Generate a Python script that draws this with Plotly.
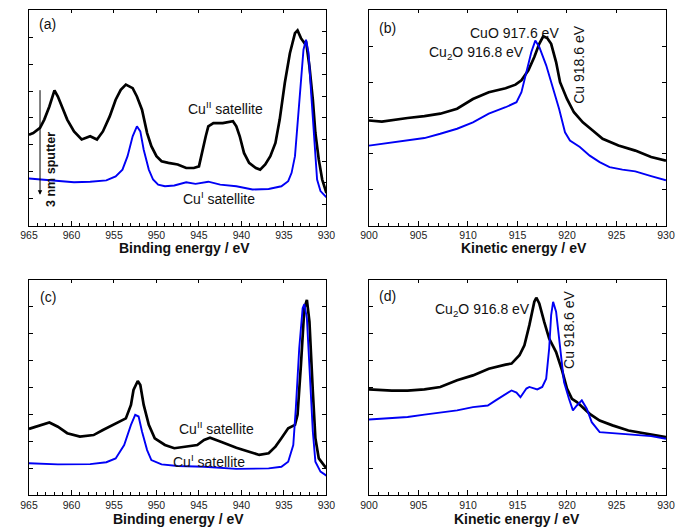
import plotly.graph_objects as go

# ---------------- (a) Cu 2p, before sputtering / after 3 nm sputter ----------------
a_black_be = [965.0, 964.5, 963.7, 963.2, 962.6, 962.0, 961.6, 961.1, 960.5, 959.7, 958.8, 957.8,
              957.0, 956.3, 955.5, 954.8, 954.2, 953.6, 952.8, 952.3, 951.7, 951.1, 950.6, 950.0,
              949.4, 948.6, 947.5, 946.5, 945.6, 945.0, 944.6, 944.2, 943.9, 943.3, 942.2, 941.0,
              940.6, 940.2, 939.7, 939.1, 938.3, 937.8, 937.2, 936.6, 936.0, 935.5, 934.9, 934.3,
              933.7, 933.4, 933.0, 932.6, 932.4, 932.0, 931.6, 931.3, 930.9, 930.5, 930.0]
a_black = [3.38, 3.44, 3.63, 3.94, 4.43, 5.03, 4.80, 4.43, 3.94, 3.50, 3.20, 3.32,
           3.20, 3.50, 4.06, 4.68, 5.05, 5.24, 5.11, 4.80, 4.31, 3.44, 2.95, 2.58,
           2.39, 2.33, 2.27, 2.14, 2.14, 2.20, 2.82, 3.32, 3.69, 3.81, 3.81, 3.88,
           3.69, 3.32, 2.70, 2.33, 2.14, 2.08, 2.27, 2.58, 3.07, 3.94, 5.30, 6.41,
           7.16, 7.26, 6.97, 6.79, 6.85, 5.92, 4.68, 3.44, 2.45, 1.71, 1.21]
a_blue_be = [965.0, 963.5, 961.6, 959.7, 957.8, 955.9, 954.8, 954.0, 953.4, 952.8, 952.3, 951.9,
             951.5, 950.9, 950.4, 949.8, 949.0, 947.9, 946.5, 945.4, 943.9, 942.5, 940.6, 938.7,
             936.8, 935.3, 934.5, 934.1, 933.7, 933.4, 933.0, 932.7, 932.4, 932.1, 931.8, 931.4,
             931.1, 930.7, 930.0]
a_blue = [1.75, 1.71, 1.65, 1.61, 1.63, 1.68, 1.83, 2.08, 2.58, 3.32, 3.69, 3.50,
          2.82, 2.08, 1.71, 1.52, 1.46, 1.49, 1.61, 1.55, 1.63, 1.52, 1.46, 1.34,
          1.36, 1.46, 1.65, 1.96, 2.58, 3.81, 5.42, 6.54, 6.91, 6.41, 4.93, 3.07,
          1.71, 1.28, 1.05]

# ---------------- (b) Cu LMM, before / after sputter ----------------
b_black_ke = [900.0, 901.3, 903.9, 905.6, 907.2, 908.9, 910.5, 912.1, 913.8, 914.8, 915.4, 916.1,
              916.7, 917.2, 917.6, 918.0, 918.4, 918.9, 919.3, 920.0, 920.7, 921.6, 922.6, 923.6,
              925.2, 926.9, 928.5, 930.0]
b_black = [2.93, 2.90, 3.00, 3.05, 3.12, 3.26, 3.53, 3.72, 3.83, 3.93, 4.05, 4.33,
           4.70, 5.07, 5.28, 5.23, 5.07, 4.56, 4.00, 3.53, 3.16, 2.88, 2.65, 2.42,
           2.23, 2.09, 1.91, 1.81]
b_blue_ke = [900.0, 902.3, 903.9, 905.6, 907.2, 908.9, 910.5, 912.1, 913.8, 914.9, 915.4, 915.9,
             916.4, 916.8, 917.2, 917.9, 918.5, 919.2, 919.8, 920.3, 921.3, 922.3, 923.3, 924.3,
             925.6, 926.9, 928.5, 930.0]
b_blue = [2.23, 2.31, 2.37, 2.44, 2.56, 2.70, 2.88, 3.12, 3.30, 3.44, 3.72, 4.28,
          4.84, 5.16, 4.98, 4.47, 3.91, 3.26, 2.60, 2.37, 2.19, 1.95, 1.77, 1.63,
          1.56, 1.51, 1.38, 1.26]

# ---------------- (c) Cu 2p, second sample ----------------
c_black_be = [965.0, 963.5, 962.6, 961.6, 960.5, 959.0, 957.4, 956.3, 955.1, 954.2, 953.6, 953.0,
              952.7, 952.2, 951.9, 951.5, 950.9, 950.2, 949.0, 947.9, 946.4, 945.2, 944.4, 943.7,
              942.5, 940.6, 939.1, 937.9, 936.8, 936.0, 935.3, 934.5, 933.7, 933.4, 933.0, 932.6,
              932.3, 932.0, 931.6, 931.3, 930.9, 930.0]
c_black = [2.46, 2.61, 2.70, 2.54, 2.30, 2.17, 2.23, 2.42, 2.61, 2.73, 2.85, 3.35,
           3.91, 4.24, 4.09, 3.35, 2.61, 2.11, 1.86, 1.74, 1.80, 1.86, 2.05, 2.13,
           1.99, 1.76, 1.61, 1.49, 1.55, 1.80, 2.11, 2.48, 2.61, 2.98, 4.84, 6.95,
           7.26, 6.45, 3.85, 2.11, 1.36, 0.99]
c_blue_be = [965.0, 961.6, 957.8, 955.9, 954.8, 953.8, 953.0, 952.5, 952.1, 951.7, 951.1, 950.6,
             949.4, 947.5, 944.4, 940.6, 936.8, 935.3, 934.5, 933.9, 933.6, 933.2, 932.8, 932.6,
             932.3, 932.0, 931.6, 931.3, 930.7, 930.0]
c_blue = [1.18, 1.14, 1.15, 1.22, 1.36, 1.86, 2.61, 2.98, 2.92, 2.36, 1.67, 1.30,
          1.14, 1.08, 1.05, 0.97, 0.99, 1.05, 1.24, 1.86, 3.23, 5.46, 6.95, 7.10,
          6.58, 4.96, 2.36, 1.24, 0.87, 0.72]

# ---------------- (d) Cu LMM, second sample ----------------
d_black_ke = [900.0, 902.3, 903.9, 905.6, 907.2, 908.9, 910.5, 912.1, 913.8, 914.4, 915.2, 915.7,
              916.2, 916.7, 916.9, 917.2, 917.7, 918.2, 918.9, 919.5, 920.0, 920.5, 921.0, 921.6,
              922.3, 923.3, 924.6, 926.2, 927.9, 930.0]
d_black = [3.93, 3.88, 3.88, 3.93, 4.02, 4.27, 4.45, 4.70, 4.85, 4.89, 5.20, 5.57,
           6.32, 7.19, 7.34, 7.13, 6.44, 5.82, 5.32, 4.64, 3.96, 3.58, 3.46, 3.27,
           3.02, 2.77, 2.59, 2.40, 2.28, 2.15]
d_blue_ke = [900.0, 902.3, 903.9, 905.6, 907.2, 908.9, 910.5, 912.0, 912.8, 913.8, 914.4, 914.9,
             915.3, 915.9, 916.2, 917.0, 917.5, 917.9, 918.2, 918.4, 918.6, 918.9, 919.3, 919.7,
             920.2, 920.6, 921.0, 921.5, 922.0, 922.5, 923.3, 925.2, 926.9, 928.5, 930.0]
d_blue = [2.81, 2.86, 2.90, 2.99, 3.06, 3.15, 3.27, 3.33, 3.52, 3.77, 3.89, 3.81,
          3.64, 3.96, 4.02, 3.93, 4.02, 4.33, 5.45, 6.69, 7.19, 6.82, 5.45, 4.20,
          3.58, 3.15, 3.33, 3.52, 3.21, 2.71, 2.34, 2.28, 2.25, 2.19, 2.09]

BE_RANGE = [965, 930]
KE_RANGE = [900, 930]
FONT = "Liberation Sans, Arial, Helvetica, sans-serif"
BLACK = "#000000"
BLUE = "#0000f5"

fig = go.Figure()

def add_pair(xk, yk, xb, yb, xref, yref):
    fig.add_trace(go.Scatter(x=xb, y=yb, mode="lines", line=dict(color=BLACK, width=2.7),
                             xaxis=xref, yaxis=yref, showlegend=False))
    fig.add_trace(go.Scatter(x=xk, y=yk, mode="lines", line=dict(color=BLUE, width=1.9),
                             xaxis=xref, yaxis=yref, showlegend=False))

add_pair(a_blue_be, a_blue, a_black_be, a_black, "x", "y")
add_pair(b_blue_ke, b_blue, b_black_ke, b_black, "x2", "y2")
add_pair(c_blue_be, c_blue, c_black_be, c_black, "x3", "y3")
add_pair(d_blue_ke, d_blue, d_black_ke, d_black, "x4", "y4")

# empty traces so that the overlaid tick-only axes get a subplot
for xr, yr in [("x5", "y"), ("x6", "y2"), ("x7", "y3"), ("x8", "y4"), ("x", "y9")]:
    fig.add_trace(go.Scatter(x=[], y=[], xaxis=xr, yaxis=yr, showlegend=False, hoverinfo="skip"))

X_DOM_L = [0.0299, 0.4752]
X_DOM_R = [0.5389, 0.9835]
Y_DOM_T = [0.5737, 0.9802]
Y_DOM_B = [0.0643, 0.4707]


def main_x(dom, anchor, rng):
    return dict(domain=dom, anchor=anchor, range=rng, showline=True, linecolor=BLACK, linewidth=1,
                mirror=True, ticks="inside", ticklen=5, tickwidth=1, tickcolor=BLACK,
                tick0=900, dtick=5, showgrid=False, zeroline=False,
                minor=dict(ticks="inside", ticklen=3, tickwidth=1, tickcolor=BLACK, dtick=1,
                           showgrid=False),
                tickfont=dict(family=FONT, size=10.5, color="#222222"),
                ticklabelstandoff=0)


def top_x(over, anchor, rng):
    return dict(overlaying=over, anchor=anchor, side="top", range=rng, ticks="inside", ticklen=3,
                tickwidth=1, tickcolor=BLACK, tick0=900, dtick=5, showticklabels=False,
                showline=False, showgrid=False, zeroline=False)


def main_y(dom, anchor, top, mirror):
    return dict(domain=dom, anchor=anchor, range=[0, top], showline=True, linecolor=BLACK,
                linewidth=1, mirror=mirror, ticks="inside", ticklen=4, tickwidth=1,
                tickcolor=BLACK, tick0=0, dtick=1, showticklabels=False, showgrid=False,
                zeroline=False)


fig.update_layout(
    width=686, height=529, margin=dict(l=0, r=0, t=0, b=0),
    paper_bgcolor="white", plot_bgcolor="white",
    font=dict(family=FONT, color="#111111"),
    xaxis=main_x(X_DOM_L, "y", BE_RANGE),
    yaxis=main_y(Y_DOM_T, "x", 8, True),
    xaxis2=main_x(X_DOM_R, "y2", KE_RANGE),
    yaxis2=main_y(Y_DOM_T, "x2", 6, "ticks"),
    xaxis3=main_x(X_DOM_L, "y3", BE_RANGE),
    yaxis3=main_y(Y_DOM_B, "x3", 8, "ticks"),
    xaxis4=main_x(X_DOM_R, "y4", KE_RANGE),
    yaxis4=main_y(Y_DOM_B, "x4", 8, "ticks"),
    xaxis5=top_x("x", "y", BE_RANGE),
    xaxis6=top_x("x2", "y2", KE_RANGE),
    xaxis7=top_x("x3", "y3", BE_RANGE),
    xaxis8=top_x("x4", "y4", KE_RANGE),
    yaxis9=dict(overlaying="y", anchor="x", side="right", range=[0, 10], ticks="inside",
                ticklen=4, tickwidth=1, tickcolor=BLACK, tick0=0, dtick=1,
                showticklabels=False, showline=False, showgrid=False, zeroline=False),
)

ann = []
TXT = dict(size=14, color="#111111", family=FONT)


def label(text, x, y, xr, yr, xanchor="left", angle=0, font=None):
    ann.append(dict(text=text, x=x, y=y, xref=xr, yref=yr, xanchor=xanchor, yanchor="middle",
                    showarrow=False, textangle=angle, font=font or TXT))


# panel letters
label("(a)", 964.0, 7.48, "x", "y")
label("(b)", 900.8, 5.51, "x2", "y2")
label("(c)", 963.9, 7.37, "x3", "y3")
label("(d)", 900.8, 7.41, "x4", "y4")

# (a)
label("Cu<sup>II</sup> satellite", 946.5, 4.38, "x", "y")
label("Cu<sup>I</sup> satellite", 947.1, 1.03, "x", "y")
label("<b>3 nm sputter</b>", 962.4, 2.07, "x", "y", xanchor="center", angle=-90,
      font=dict(size=12.5, color="#111111", family=FONT))
ann.append(dict(x=963.7, y=1.14, ax=963.7, ay=5.09, xref="x", yref="y", axref="x", ayref="y",
                text="", showarrow=True, arrowhead=2, arrowsize=0.9, arrowwidth=1,
                arrowcolor=BLACK))

# (b)
label("CuO 917.6 eV", 910.0, 5.37, "x2", "y2")
label("Cu<sub>2</sub>O 916.8 eV", 905.9, 4.81, "x2", "y2")
label("Cu 918.6 eV", 921.2, 4.48, "x2", "y2", xanchor="center", angle=-90)

# (c)
label("Cu<sup>II</sup> satellite", 947.6, 2.49, "x3", "y3")
label("Cu<sup>I</sup> satellite", 948.3, 1.27, "x3", "y3")

# (d)
label("Cu<sub>2</sub>O 916.8 eV", 906.5, 6.88, "x4", "y4")
label("Cu 918.6 eV", 920.2, 6.14, "x4", "y4", xanchor="center", angle=-90)

# axis titles
TITLE = dict(size=14, color="#111111", family=FONT)
for text, xc, yc in [("<b>Binding energy / eV</b>", 180, 248),
                     ("<b>Kinetic energy / eV</b>", 529, 248),
                     ("<b>Binding energy / eV</b>", 174, 519),
                     ("<b>Kinetic energy / eV</b>", 522, 519)]:
    ann.append(dict(text=text, x=xc / 686, y=1 - yc / 529, xref="paper", yref="paper",
                    xanchor="center", yanchor="middle", showarrow=False, font=TITLE))

fig.update_layout(annotations=ann)
fig.write_html("out.html")
